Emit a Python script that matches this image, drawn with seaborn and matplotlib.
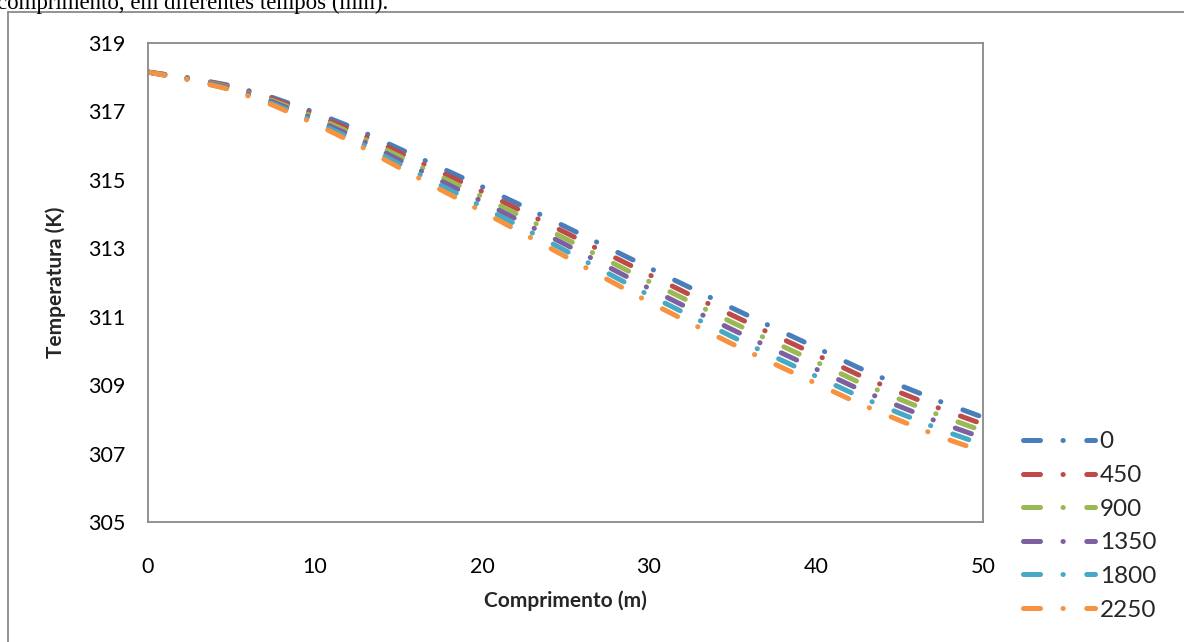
import matplotlib
matplotlib.use("Agg")
import matplotlib.pyplot as plt
from matplotlib.lines import Line2D
import pandas as pd
import seaborn as sns

# Pipe length positions (m)
comprimento = [0.0, 2.5, 5.0, 7.5, 10.0, 12.5, 15.0, 17.5, 20.0, 22.5, 25.0,
               27.5, 30.0, 32.5, 35.0, 37.5, 40.0, 42.5, 45.0, 47.5, 50.0]

# Temperature profiles (K) for each elapsed time (min)
t_0 = [318.15, 317.98, 317.75, 317.40, 316.97, 316.48, 315.92, 315.36, 314.80, 314.22, 313.63,
       313.03, 312.43, 311.84, 311.25, 310.67, 310.10, 309.52, 309.00, 308.51, 308.06]
t_450 = [318.15, 317.97, 317.73, 317.36, 316.90, 316.39, 315.81, 315.23, 314.66, 314.06, 313.46,
         312.84, 312.23, 311.63, 311.04, 310.46, 309.89, 309.31, 308.79, 308.30, 307.86]
t_900 = [318.15, 317.96, 317.70, 317.31, 316.84, 316.30, 315.70, 315.10, 314.51, 313.90, 313.28,
         312.65, 312.03, 311.43, 310.83, 310.25, 309.68, 309.10, 308.59, 308.10, 307.66]
t_1350 = [318.15, 317.94, 317.68, 317.27, 316.77, 316.22, 315.59, 314.98, 314.37, 313.74, 313.11,
          312.47, 311.83, 311.22, 310.62, 310.04, 309.47, 308.90, 308.38, 307.89, 307.46]
t_1800 = [318.15, 317.93, 317.65, 317.22, 316.71, 316.13, 315.48, 314.85, 314.22, 313.58, 312.93,
          312.28, 311.63, 311.02, 310.41, 309.83, 309.26, 308.69, 308.18, 307.69, 307.26]
t_2250 = [318.15, 317.92, 317.63, 317.18, 316.64, 316.04, 315.37, 314.72, 314.08, 313.42, 312.76,
          312.09, 311.43, 310.81, 310.20, 309.62, 309.05, 308.48, 307.97, 307.48, 307.06]

tempos = ["0", "450", "900", "1350", "1800", "2250"]
series = [t_0, t_450, t_900, t_1350, t_1800, t_2250]
cores = ["#4A7EBB", "#BE4B48", "#98B954", "#7D60A0", "#46AAC5", "#F69240"]

x_ticks = [0, 10, 20, 30, 40, 50]
y_ticks = [305, 307, 309, 311, 313, 315, 317, 319]

df = pd.concat(
    [pd.DataFrame({"Comprimento": comprimento, "Temperatura": vals, "Tempo": t})
     for t, vals in zip(tempos, series)],
    ignore_index=True,
)

sns.set_theme(style="white")
plt.rcParams["font.family"] = ["Lato", "DejaVu Sans"]

fig = plt.figure(figsize=(11.84, 6.42), dpi=100)
ax = fig.add_axes([148 / 1184, 1 - 522 / 642, (983 - 148) / 1184, (522 - 43) / 642])

long_dash_dot = (0, (3.4, 4.5, 0.05, 4.7))
sns.lineplot(
    data=df, x="Comprimento", y="Temperatura", hue="Tempo",
    hue_order=tempos, palette=cores, estimator=None, sort=False,
    linewidth=3.6, linestyle=long_dash_dot, dash_capstyle="round",
    legend=False, ax=ax,
)

ax.set_xlim(0, 50)
ax.set_ylim(305, 319)
ax.set_xticks(x_ticks)
ax.set_yticks(y_ticks)
ax.tick_params(axis="both", length=0, labelsize=15.5, colors="black")
ax.tick_params(axis="x", pad=25)
ax.tick_params(axis="y", pad=16)
ax.set_xlabel("Comprimento (m)", fontsize=15, fontweight="bold", labelpad=10)
ax.set_ylabel("Temperatura (K)", fontsize=15, fontweight="bold", labelpad=16)
for s in ax.spines.values():
    s.set_color("#898989")
    s.set_linewidth(1.3)

handles = [Line2D([], [], color=c, linewidth=3.6, linestyle=long_dash_dot,
                  dash_capstyle="round") for c in cores]
fig.legend(handles, tempos, loc="center left", bbox_to_anchor=(1023 / 1184, 1 - 526 / 642),
           frameon=False, fontsize=17.5, handlelength=2.95, handletextpad=0.2,
           labelspacing=0.52, borderpad=0, borderaxespad=0)

# chart-area frame (left and top edges)
fig.add_artist(Line2D([8 / 1184, 8 / 1184], [0, 1 - 12 / 642], transform=fig.transFigure,
                      color="#8a8a8a", linewidth=1.3))
fig.add_artist(Line2D([8 / 1184, 1], [1 - 12 / 642, 1 - 12 / 642], transform=fig.transFigure,
                      color="#8a8a8a", linewidth=1.3))

# caption line above the chart
fig.text(-3 / 1184, 1 - 9 / 642, "comprimento, em diferentes tempos (min).",
         family=["Liberation Serif"], fontsize=16.5, ha="left", va="baseline", color="black")

fig.savefig("out.png", dpi=100)
